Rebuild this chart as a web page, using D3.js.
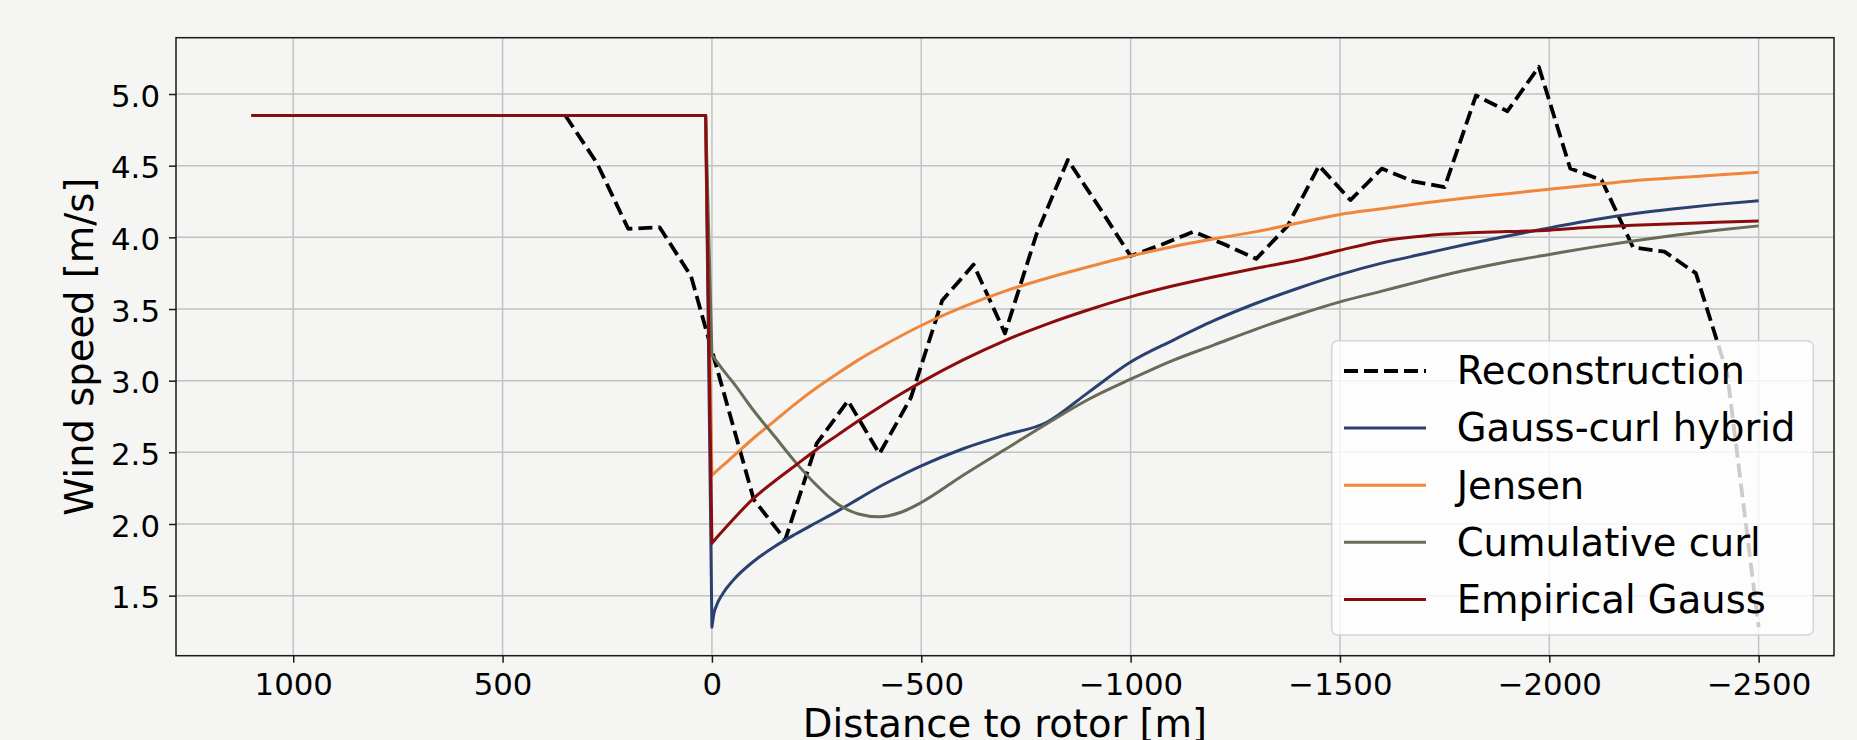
<!DOCTYPE html>
<html><head><meta charset="utf-8">
<script src="https://cdn.jsdelivr.net/npm/d3@7"></script>
<style>
html,body{margin:0;padding:0;background:#f5f5f3;}
svg{display:block;font-family:"DejaVu Sans",sans-serif;}
</style></head><body>
<svg id="chart" width="1857" height="740"></svg>
<script>
// ---------- data ----------
const reconDist = [350, 275, 200, 125, 50, -25, -100, -175, -250, -325, -400, -475, -550, -625, -700, -775, -850, -925, -1000, -1075, -1150, -1225, -1300, -1375, -1450, -1525, -1600, -1675, -1750, -1825, -1900, -1975, -2050, -2125, -2200, -2275, -2350, -2425, -2500];
const reconSpeed = [4.85, 4.52, 4.06, 4.07, 3.73, 2.95, 2.17, 1.89, 2.56, 2.86, 2.49, 2.88, 3.56, 3.81, 3.33, 4.02, 4.54, 4.21, 3.87, 3.95, 4.04, 3.95, 3.85, 4.08, 4.50, 4.26, 4.48, 4.39, 4.35, 4.99, 4.88, 5.19, 4.48, 4.40, 3.93, 3.90, 3.75, 3.05, 1.28];

const upstreamDist = [1100, 15];
const freeStreamSpeed = 4.85;

const modelDist = [0, -5, -10, -25, -50, -100, -150, -200, -250, -300, -350, -400, -450, -500, -600, -700, -800, -900, -1000, -1100, -1200, -1300, -1400, -1500, -1600, -1700, -1800, -1900, -2000, -2100, -2200, -2300, -2400, -2500];
const gaussCurlHybrid = [1.28, 1.38, 1.425, 1.51, 1.605, 1.74, 1.843, 1.93, 2.01, 2.09, 2.175, 2.26, 2.335, 2.405, 2.525, 2.62, 2.71, 2.92, 3.13, 3.28, 3.42, 3.54, 3.645, 3.74, 3.82, 3.885, 3.95, 4.01, 4.065, 4.12, 4.165, 4.20, 4.23, 4.256];
const jensen = [2.34, 2.353, 2.367, 2.405, 2.47, 2.60, 2.72, 2.84, 2.95, 3.05, 3.145, 3.23, 3.31, 3.385, 3.515, 3.625, 3.715, 3.795, 3.87, 3.935, 3.99, 4.04, 4.10, 4.16, 4.20, 4.24, 4.275, 4.305, 4.335, 4.365, 4.395, 4.415, 4.435, 4.454];
const cumulativeCurl = [3.18, 3.16, 3.14, 3.08, 2.99, 2.79, 2.61, 2.43, 2.27, 2.14, 2.07, 2.05, 2.08, 2.15, 2.34, 2.52, 2.70, 2.87, 3.01, 3.14, 3.25, 3.36, 3.46, 3.55, 3.625, 3.70, 3.77, 3.83, 3.88, 3.93, 3.975, 4.015, 4.05, 4.08];
const empiricalGauss = [1.865, 1.882, 1.90, 1.95, 2.03, 2.18, 2.30, 2.41, 2.52, 2.62, 2.72, 2.815, 2.905, 2.99, 3.145, 3.28, 3.395, 3.495, 3.585, 3.66, 3.725, 3.785, 3.84, 3.91, 3.975, 4.01, 4.03, 4.04, 4.05, 4.07, 4.085, 4.095, 4.105, 4.114];

const seriesNames = ["Reconstruction", "Gauss-curl hybrid", "Jensen", "Cumulative curl", "Empirical Gauss"];
const seriesColors = ["#000000", "#2a4170", "#f0863a", "#686b58", "#8b0c0c"];

const xTickValues = [1000, 500, 0, -500, -1000, -1500, -2000, -2500];
const yTickValues = [1.5, 2.0, 2.5, 3.0, 3.5, 4.0, 4.5, 5.0];
const xLabel = "Distance to rotor [m]";
const yLabel = "Wind speed [m/s]";

// ---------- layout ----------
const svg = d3.select("#chart");
const L = 176, R = 1834, T = 37.7, B = 655.7;
const x = d3.scaleLinear().domain([1280, -2680]).range([L, R]);
const y = d3.scaleLinear().domain([1.081, 5.393]).range([B, T]);
const bg = "#f5f5f3";
const gridColor = "#c2c2c2";

svg.append("rect").attr("width", 1857).attr("height", 740).attr("fill", bg);

// grid
const grid = svg.append("g");
grid.selectAll("line.gx").data(xTickValues).join("line")
  .attr("x1", d => x(d)).attr("x2", d => x(d)).attr("y1", T).attr("y2", B)
  .attr("stroke", gridColor).attr("stroke-width", 1.5);
grid.selectAll("line.gy").data(yTickValues).join("line")
  .attr("y1", d => y(d)).attr("y2", d => y(d)).attr("x1", L).attr("x2", R)
  .attr("stroke", gridColor).attr("stroke-width", 1.5);

// lines
const lineGen = d3.line().x(d => x(d[0])).y(d => y(d[1]));
const curveGen = d3.line().x(d => x(d[0])).y(d => y(d[1])).curve(d3.curveMonotoneX);
const plot = svg.append("g");

plot.append("path")
  .attr("d", lineGen(reconDist.map((d, i) => [d, reconSpeed[i]])))
  .attr("fill", "none").attr("stroke", seriesColors[0]).attr("stroke-width", 3.8)
  .attr("stroke-dasharray", "14,6").attr("stroke-linejoin", "round");

const models = [gaussCurlHybrid, jensen, cumulativeCurl, empiricalGauss];
models.forEach((vals, k) => {
  const up = lineGen([[upstreamDist[0], freeStreamSpeed], [upstreamDist[1], freeStreamSpeed]]);
  const down = curveGen(modelDist.map((d, i) => [d, vals[i]]));
  plot.append("path")
    .attr("d", up + "L" + down.slice(1))
    .attr("fill", "none").attr("stroke", seriesColors[k + 1]).attr("stroke-width", 3.0)
    .attr("stroke-linejoin", "round");
});

// frame
svg.append("rect").attr("x", L).attr("y", T).attr("width", R - L).attr("height", B - T)
  .attr("fill", "none").attr("stroke", "#1a1a1a").attr("stroke-width", 1.5);

// axes
const fmtX = d => (d < 0 ? "\u2212" + Math.abs(d) : String(d));
const xAxis = svg.append("g").attr("transform", `translate(0,${B})`)
  .call(d3.axisBottom(x).tickValues(xTickValues).tickFormat(fmtX).tickSize(7).tickPadding(10).tickSizeOuter(0));
const yAxis = svg.append("g").attr("transform", `translate(${L},0)`)
  .call(d3.axisLeft(y).tickValues(yTickValues).tickFormat(d3.format(".1f")).tickSize(7).tickPadding(9).tickSizeOuter(0));
[xAxis, yAxis].forEach(a => {
  a.select(".domain").remove();
  a.selectAll(".tick line").attr("stroke", "#1a1a1a").attr("stroke-width", 1.5);
  a.selectAll(".tick text").attr("fill", "#000").style("font-size", "30.8px").style("font-family", "DejaVu Sans");
});
yAxis.selectAll(".tick text").attr("dy", "0.39em");

svg.append("text").attr("x", (L + R) / 2).attr("y", 737).attr("text-anchor", "middle")
  .style("font-size", "38.5px").attr("fill", "#000").text(xLabel);
svg.append("text").attr("transform", `translate(92.6,${(T + B) / 2}) rotate(-90)`).attr("text-anchor", "middle")
  .style("font-size", "38.5px").attr("fill", "#000").text(yLabel);

// legend
const lg = svg.append("g");
lg.append("rect").attr("x", 1331.7).attr("y", 340.7).attr("width", 481.6).attr("height", 294.3)
  .attr("rx", 6).attr("fill", "#ffffff").attr("fill-opacity", 0.8)
  .attr("stroke", "#cccccc").attr("stroke-opacity", 0.8).attr("stroke-width", 1.5);
seriesNames.forEach((name, i) => {
  const yy = 371 + i * 57.1;
  lg.append("line").attr("x1", 1344).attr("x2", 1426).attr("y1", yy).attr("y2", yy)
    .attr("stroke", seriesColors[i]).attr("stroke-width", i === 0 ? 3.8 : 3.0)
    .attr("stroke-dasharray", i === 0 ? "14,6" : null);
  lg.append("text").attr("x", 1456.7).attr("y", yy + 13.3).style("font-size", "38.5px")
    .attr("fill", "#000").text(name);
});
</script>
</body></html>
